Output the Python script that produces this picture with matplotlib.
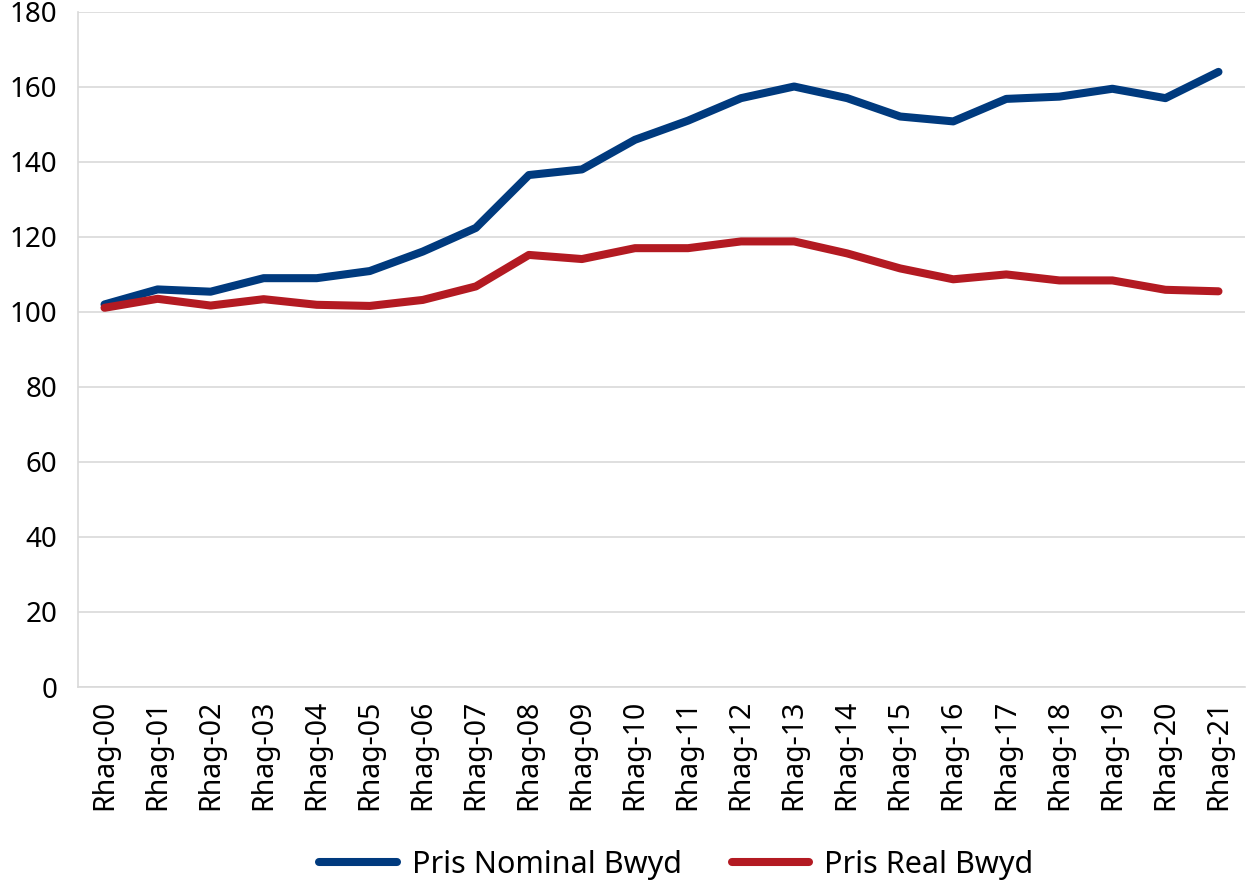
import matplotlib
matplotlib.use("Agg")
import matplotlib.pyplot as plt

categories = ["Rhag-00", "Rhag-01", "Rhag-02", "Rhag-03", "Rhag-04", "Rhag-05",
              "Rhag-06", "Rhag-07", "Rhag-08", "Rhag-09", "Rhag-10", "Rhag-11",
              "Rhag-12", "Rhag-13", "Rhag-14", "Rhag-15", "Rhag-16", "Rhag-17",
              "Rhag-18", "Rhag-19", "Rhag-20", "Rhag-21"]
nominal = [102.0, 106.0, 105.4, 109.0, 109.0, 110.9, 116.1, 122.4, 136.5, 138.0,
           145.9, 151.0, 157.0, 160.1, 157.0, 152.1, 150.8, 156.8, 157.4, 159.5,
           157.0, 164.0]
real = [101.1, 103.5, 101.7, 103.4, 101.9, 101.6, 103.2, 106.8, 115.2, 114.1,
        117.0, 117.0, 118.8, 118.8, 115.6, 111.6, 108.7, 110.0, 108.4, 108.4,
        105.9, 105.5]
series_names = ["Pris Nominal Bwyd", "Pris Real Bwyd"]
yticks = [0, 20, 40, 60, 80, 100, 120, 140, 160, 180]

plt.rcParams['font.family'] = ['Noto Sans', 'DejaVu Sans']

fig = plt.figure(figsize=(12.5, 8.86), dpi=100)
ax = fig.add_axes([0.0624, 0.2246, 0.9336, 0.762])

x = list(range(len(categories)))
ax.plot(x, nominal, color="#003A7E", lw=5.8, solid_capstyle='round',
        solid_joinstyle='round', label=series_names[0], zorder=3)
ax.plot(x, real, color="#B31A22", lw=5.8, solid_capstyle='round',
        solid_joinstyle='round', label=series_names[1], zorder=3)

ax.set_xlim(-0.5, len(categories) - 0.5)
ax.set_ylim(0, 180)
ax.set_yticks(yticks)
ax.set_xticks(x)
ax.set_xticklabels(categories, rotation=90)
ax.tick_params(axis='both', length=0, colors='black')
ax.tick_params(axis='y', pad=15, labelsize=20)
ax.tick_params(axis='x', pad=9, labelsize=20.5)
ax.grid(axis='y', color='#D9D9D9', lw=1.2, zorder=0)
ax.set_axisbelow(True)
for s in ['top', 'right']:
    ax.spines[s].set_visible(False)
for s in ['left', 'bottom']:
    ax.spines[s].set_color('#D9D9D9')
    ax.spines[s].set_linewidth(1.2)

leg = fig.legend(loc='center', bbox_to_anchor=(0.541, 0.024), ncol=2, frameon=False,
                 fontsize=22, handlelength=2.55, handletextpad=0.49, columnspacing=1.63)

fig.savefig("out.png", dpi=100)
